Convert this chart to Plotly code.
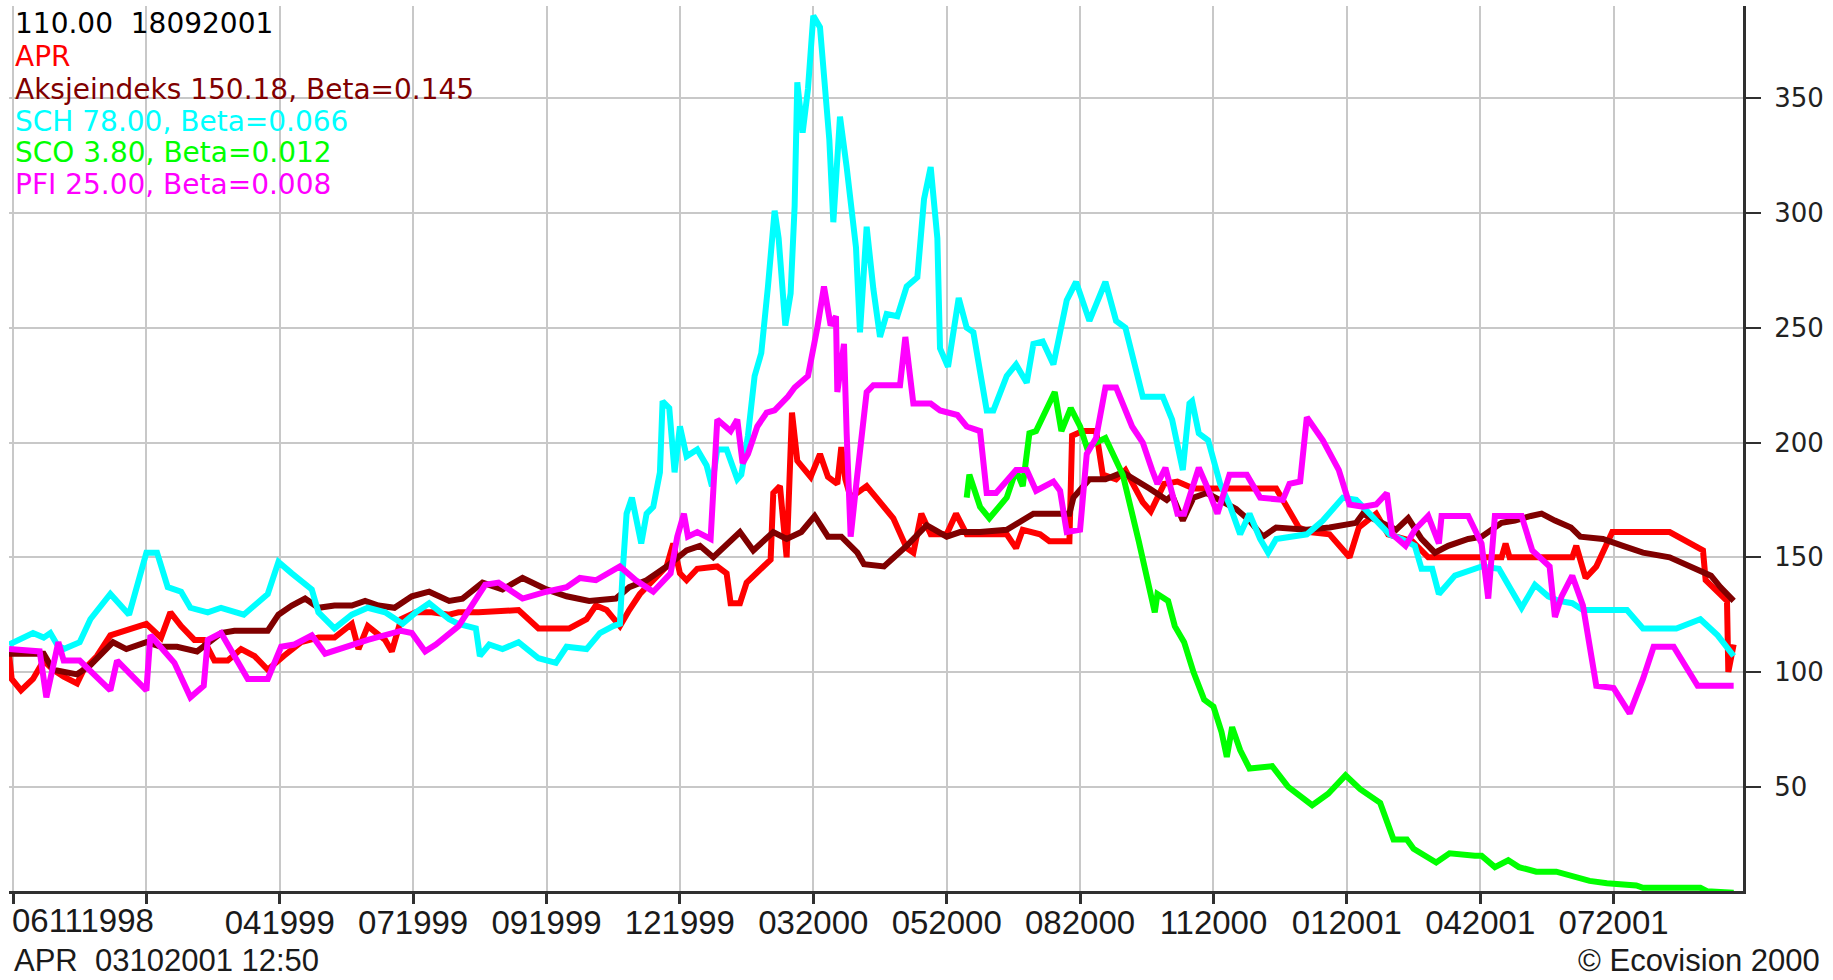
import plotly.graph_objects as go

# ---------------- data (x in "tick units": 100 per labelled tick) ----------------
tick_vals = [0, 100, 200, 300, 400, 500, 600, 700, 800, 900, 1000, 1100, 1200]
tick_text = ["", "", "041999", "071999", "091999", "121999", "032000", "052000",
             "082000", "112000", "012001", "042001", "072001"]
first_label = "06111998"
y_ticks = [50, 100, 150, 200, 250, 300, 350]

apr_x = [-3, -1, 6, 15, 23, 30, 38, 48, 53, 63, 73, 85, 100, 111, 118, 126, 136, 143, 151, 161,
         171, 181, 191, 203, 216, 229, 241, 254, 259, 266, 279, 284, 291, 302, 314, 327, 334, 349,
         379, 394, 417, 430, 437, 445, 450, 455, 462, 470, 480, 490, 495, 500, 505, 513, 528, 535,
         538, 545, 550, 560, 568, 570, 575, 580, 584, 588, 598, 605, 611, 618, 621, 624, 628, 640,
         650, 660, 670, 675, 681, 688, 700, 707, 715, 745, 752, 757, 770, 777, 792, 794, 802, 812,
         817, 827, 834, 847, 853, 863, 873, 885, 947, 957, 964, 972, 987, 1002, 1009, 1022, 1031,
         1049, 1061, 1116, 1119, 1122, 1169, 1172, 1179, 1187, 1199, 1242, 1262, 1267, 1269, 1285,
         1286, 1290]
apr_y = [108, 97, 92, 97, 105, 101, 98, 95, 101, 107, 116, 118, 121, 115, 126, 120, 114, 114, 105, 105,
         110, 107, 101, 107, 113, 115, 115, 121, 110, 120, 114, 109, 123, 126, 126, 125, 126, 126,
         127, 119, 119, 123, 129, 127, 123, 120, 127, 134, 140, 146, 156, 143, 140, 145, 146, 143,
         130, 130, 139, 145, 149, 178, 181, 150, 213, 192, 185, 195, 185, 182, 198, 184, 176, 181,
         174, 167, 154, 152, 169, 160, 160, 169, 160, 160, 154, 162, 160, 157, 157, 203, 205, 205,
         186, 184, 188, 174, 170, 182, 183, 180, 180, 170, 163, 161, 160, 150, 163, 169, 160,
         157, 150, 150, 156, 150, 150, 155, 141, 146, 161, 161, 155, 153, 140, 131,
         100, 112]

aks_x = [-3, 23, 30, 48, 58, 75, 85, 100, 111, 123, 138, 156, 166, 191, 199, 209, 219, 229, 241, 254,
         264, 274, 286, 299, 312, 327, 337, 352, 367, 382, 400, 415, 432, 452, 462, 475, 490, 505,
         515, 525, 545, 555, 570, 580, 591, 601, 611, 621, 633, 638, 653, 666, 670, 685, 700, 710,
         725, 745, 757, 765, 792, 795, 807, 819, 832, 844, 852, 865, 869, 877, 885, 895, 917, 927,
         937, 947, 970, 987, 1007, 1012, 1022, 1037, 1046, 1056, 1066, 1076, 1091, 1101, 1116, 1126,
         1138, 1146, 1156, 1168, 1175, 1192, 1207, 1222, 1242, 1263, 1273, 1280, 1290]
aks_y = [108, 108, 101, 99, 103, 113, 110, 113, 111, 111, 109, 117, 118, 118, 125, 129, 132, 128, 129, 129,
         131, 129, 128, 133, 135, 131, 132, 139, 136, 141, 136, 133, 131, 132, 137, 140, 146, 153,
         155, 150, 161, 153, 161, 158, 161, 168, 159, 159, 152, 147, 146, 153, 155, 164, 159, 161,
         161, 162, 166, 169, 169, 176, 184, 184, 187, 183, 180, 175, 177, 166, 176, 178, 171, 166,
         159, 163, 162, 163, 165, 169, 166, 162, 167, 158, 152, 155, 158, 159, 165, 166,
         168, 169, 166, 163, 159, 158, 155, 152, 150, 145, 142, 137, 131]

sch_x = [-3, 15, 23, 28, 33, 38, 50, 58, 73, 87, 100, 108, 116, 126, 133, 146, 156, 173, 191, 199,
         209, 224, 229, 241, 254, 266, 279, 292, 302, 312, 327, 334, 347, 350, 357, 367, 379, 394,
         407, 415, 430, 440, 450, 455, 457, 460, 464, 467, 471, 475, 480, 485, 487, 492, 496, 500,
         505, 513, 520, 524, 528, 535, 543, 546, 551, 556, 561, 566, 571, 574, 579, 583, 586, 588,
         592, 596, 598, 600, 605, 608, 612, 615, 620, 625, 632, 635, 640, 645, 650, 655, 663, 670,
         678, 683, 688, 693, 695, 701, 709, 715, 720, 730, 735, 745, 752, 760, 765, 772, 780, 790,
         797, 807, 819, 827, 834, 847, 862, 869, 877, 882, 884, 889, 896, 905, 912, 920, 927, 935,
         941, 947, 970, 982, 997, 1007, 1017, 1032, 1041, 1051, 1056, 1064, 1069, 1081, 1101, 1114,
         1131, 1141, 1151, 1159, 1169, 1177, 1210, 1222, 1247, 1265, 1278, 1290]
sch_y = [112, 117, 115, 117, 112, 110, 113, 123, 134, 125, 152, 152, 137, 135, 128, 126, 128, 125, 134, 148,
         143, 136, 126, 119, 125, 128, 126, 121, 126, 130, 123, 121, 119, 107, 112, 110, 113, 106,
         104, 111, 110, 117, 120, 121, 143, 169, 176, 166, 156, 169, 172, 187, 218, 215, 187, 207,
         194, 197, 190, 181, 197, 197, 184, 186, 203, 229, 239, 268, 301, 289, 251, 265, 303, 357,
         335, 354, 374, 386, 381, 361, 332, 296, 342, 320, 285, 248, 294, 267, 246, 256, 255, 268,
         272, 306, 320, 289, 241, 233, 263, 250, 248, 214, 214, 229, 234, 226, 243, 244, 234, 262,
         270, 253, 270, 253, 250, 220, 220, 210, 188, 217, 218, 204, 201, 182, 173, 160, 169, 158,
         152, 158, 160, 166, 176, 175, 169, 160, 158, 155, 145, 145, 134, 142, 146, 145,
         128, 138, 133, 131, 130, 127, 127, 119, 119, 123, 116, 107]

sco_x = [715, 717, 725, 732, 745, 752, 757, 762, 767, 775, 781, 786, 793, 800, 805, 819, 832, 844,
         852, 856, 858, 866, 871, 878, 885, 893, 900, 906, 910, 914, 920, 927, 944, 956, 974, 986,
         999, 1010, 1025, 1035, 1045, 1050, 1067, 1077, 1096, 1101, 1111, 1121, 1129, 1142, 1157,
         1169, 1182, 1195, 1217, 1222, 1265, 1270, 1290]
sco_y = [176, 186, 172, 167, 176, 188, 181, 204, 205, 214, 222, 205, 215, 207, 198, 202, 186, 157,
         135, 126, 134, 131, 120, 113, 100, 88, 85, 74, 63, 76, 66, 58, 59, 50, 42, 47,
         55, 49, 43, 27, 27, 23, 17, 21, 20, 20, 15, 18, 15, 13, 13,
         11, 9, 8, 7, 6, 6, 4.5, 3.8]

pfi_x = [-3, 20, 25, 30, 34, 38, 50, 73, 78, 100, 103, 121, 133, 143, 146, 156, 166, 176, 191, 201,
         211, 224, 234, 254, 266, 291, 299, 309, 317, 334, 354, 364, 382, 400, 415, 425, 437, 455,
         467, 480, 493, 498, 503, 506, 513, 523, 528, 538, 543, 547, 551, 558, 565, 571, 581, 586,
         596, 603, 608, 613, 617, 618, 623, 625, 628, 633, 640, 645, 665, 669, 673, 675, 688, 695,
         708, 715, 725, 730, 737, 752, 760, 767, 780, 785, 790, 800, 805, 812, 819, 827, 839, 847,
         854, 858, 864, 873, 878, 889, 895, 903, 912, 925, 935, 952, 957, 965, 970, 982, 994, 1002,
         1012, 1022, 1030, 1034, 1044, 1051, 1061, 1069, 1071, 1091, 1101, 1106, 1111, 1131, 1139,
         1152, 1156, 1161, 1169, 1177, 1187, 1200, 1212, 1222, 1230, 1245, 1263, 1290]
pfi_y = [110, 109, 89, 103, 113, 105, 105, 92, 105, 92, 116, 104, 89, 94, 114, 117, 107, 97, 97, 111,
         112, 116, 108, 112, 114, 118, 117, 109, 112, 120, 138, 139, 132, 135, 137, 141, 140, 146,
         140, 135, 143, 159, 169, 159, 161, 158, 210, 205, 210, 191, 195, 207, 213, 214, 220, 224,
         229, 250, 268, 251, 255, 222, 243, 204, 159, 186, 222, 225, 225, 246, 226, 217, 217, 214,
         212, 207, 205, 178, 178, 188, 188, 179, 183, 179, 161, 162, 195, 202, 224, 224, 207, 200,
         188, 182, 189, 169, 169, 189, 181, 169, 186, 186, 176, 175, 182, 183, 211, 201, 188, 173,
         172, 173, 178, 160, 155, 162, 168, 156, 168, 168, 156, 132, 168, 168, 153,
         146, 124, 133, 142, 129, 94, 93, 82, 97, 111, 111, 94, 94]

header_text = "110.00\u00a0 18092001"
legend_lines = [
    ("APR", "#ff0000"),
    ("Aksjeindeks 150.18, Beta=0.145", "#800000"),
    ("SCH 78.00, Beta=0.066", "#00ffff"),
    ("SCO 3.80, Beta=0.012", "#00ff00"),
    ("PFI 25.00, Beta=0.008", "#ff00ff"),
]
footer_left = "APR\u00a0 03102001 12:50"
footer_right = "\u00a9 Ecovision 2000"

# ---------------- figure ----------------
fig = go.Figure()
series = [
    ("APR", apr_x, apr_y, "#ff0000"),
    ("Aksjeindeks", aks_x, aks_y, "#800000"),
    ("SCH", sch_x, sch_y, "#00ffff"),
    ("SCO", sco_x, sco_y, "#00ff00"),
    ("PFI", pfi_x, pfi_y, "#ff00ff"),
]
for name, xs, ys, col in series:
    fig.add_trace(go.Scatter(x=xs, y=ys, mode="lines", name=name,
                             line=dict(color=col, width=6), hoverinfo="skip"))

L, R, T, B = 9, 90, 6, 89
W, H = 1833, 980
pw, ph = W - L - R, H - T - B


def px(xo):
    return (xo - L) / pw


def py(yo):
    return 1 - (yo - T) / ph


annotations = []
annotations.append(dict(text=header_text, x=px(13), y=py(23.5), xref="paper", yref="paper",
                        xanchor="left", yanchor="middle", showarrow=False,
                        font=dict(family="DejaVu Sans", size=28, color="#000000")))
line_centers = [56.4, 89.3, 121.0, 152.8, 184.5]
for (txt, col), yc in zip(legend_lines, line_centers):
    annotations.append(dict(text=txt, x=px(13), y=py(yc), xref="paper", yref="paper",
                            xanchor="left", yanchor="middle", showarrow=False,
                            font=dict(family="DejaVu Sans", size=28, color=col)))
annotations.append(dict(text=first_label, x=-2, y=py(921), xref="x", yref="paper",
                        xanchor="left", yanchor="middle", showarrow=False,
                        font=dict(family="Liberation Sans", size=33, color="#1a1a1a")))
annotations.append(dict(text=footer_left, x=px(12), y=py(960), xref="paper", yref="paper",
                        xanchor="left", yanchor="middle", showarrow=False,
                        font=dict(family="Liberation Sans", size=31, color="#1a1a1a")))
annotations.append(dict(text=footer_right, x=px(1822), y=py(960), xref="paper", yref="paper",
                        xanchor="right", yanchor="middle", showarrow=False,
                        font=dict(family="Liberation Sans", size=31, color="#1a1a1a")))

fig.update_layout(
    width=W, height=H,
    margin=dict(l=L, r=R, t=T, b=B, autoexpand=False),
    plot_bgcolor="white", paper_bgcolor="white",
    showlegend=False,
    annotations=annotations,
    xaxis=dict(range=[-3, 1297], tickmode="array", tickvals=tick_vals, ticktext=tick_text,
               showgrid=True, gridcolor="#c8c8c8", gridwidth=2, zeroline=False,
               showline=True, linecolor="#303030", linewidth=3,
               ticks="outside", ticklen=10, tickwidth=3, tickcolor="#303030",
               ticklabelstandoff=-10,
               tickfont=dict(family="Liberation Sans", size=33, color="#1a1a1a"),
               automargin=False, fixedrange=True),
    yaxis=dict(side="right", range=[4.6, 390.2], tickmode="array", tickvals=y_ticks,
               showgrid=True, gridcolor="#c8c8c8", gridwidth=2, zeroline=False,
               showline=True, linecolor="#303030", linewidth=3,
               ticks="outside", ticklen=15, tickwidth=2, tickcolor="#303030",
               ticklabelstandoff=8,
               tickfont=dict(family="DejaVu Sans", size=26, color="#222222"),
               automargin=False, fixedrange=True),
)

fig.write_html("out.html", config={"displayModeBar": False},
               post_script="document.body.style.margin='0px';"
                           "document.body.style.overflow='hidden';")
